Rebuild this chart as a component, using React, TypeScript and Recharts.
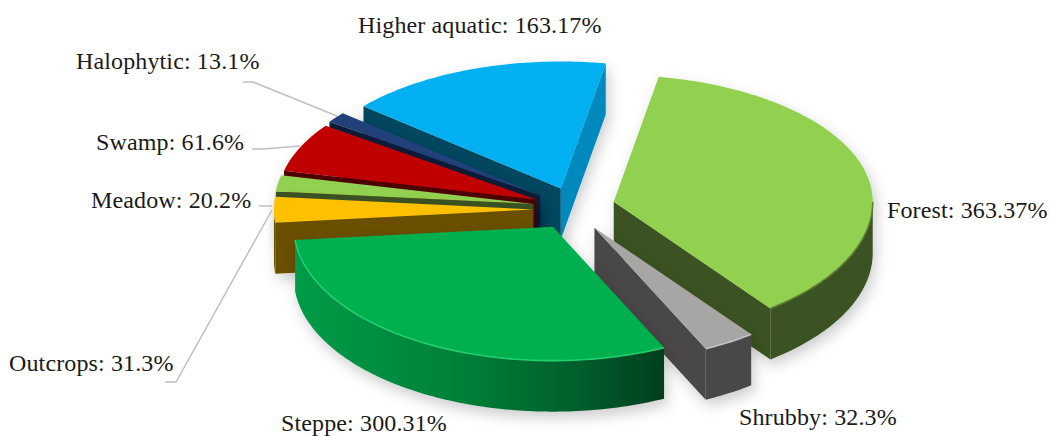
import { PieChart, Pie } from "recharts";

const names = ["Forest", "Shrubby", "Steppe", "Outcrops", "Meadow", "Swamp", "Halophytic", "Higher aquatic"];
const shares = [363.37, 32.3, 300.31, 31.3, 20.2, 61.6, 13.1, 163.17];
const data = names.map((name, i) => ({ name, value: shares[i] }));

// back to front, a pie has only one paint order so each slice gets its own pass
const drawOrder = ["Higher aquatic", "Halophytic", "Swamp", "Meadow", "Outcrops", "Forest", "Shrubby", "Steppe"];

// near half of the ellipse is a bit deeper than the far half (perspective)
const TILT_FAR = 0.49;
const TILT_NEAR = 0.517;
const DEPTH = 51;
const FONT = "'Liberation Serif', serif";

const explode: Record<string, number> = {
  Forest: 45,
  Shrubby: 47,
  Steppe: 35,
  Outcrops: 37,
  Meadow: 37,
  Swamp: 37,
  Halophytic: 38,
  "Higher aquatic": 36,
};

const nudge: Record<string, number[]> = {
  Steppe: [0, 4],
  Outcrops: [0, 2.5],
  "Higher aquatic": [3, -2],
};

const looks: Record<string, { top: string; start: string; end: string; outer: string; rim?: string }> = {
  Forest: { top: "#92d050", start: "#3b5320", end: "#3b5320", outer: "#3b5320", rim: "#5c7d32" },
  Shrubby: { top: "#a8a5a5", start: "#484647", end: "#484647", outer: "#484647", rim: "#c4c2c2" },
  Steppe: { top: "#00b050", start: "#00703a", end: "#00401f", outer: "url(#steppeWall)", rim: "#22cf6e" },
  Outcrops: { top: "#ffc000", start: "#6b5000", end: "#6b5000", outer: "#6b5000" },
  Meadow: { top: "#92d050", start: "#3b5320", end: "#3b5320", outer: "#3b5320" },
  Swamp: { top: "#c00000", start: "#500000", end: "#500000", outer: "#500000" },
  Halophytic: { top: "#23407a", start: "#0d1c38", end: "#0d1c38", outer: "#0d1c38" },
  "Higher aquatic": { top: "#00b0f0", start: "#00465f", end: "#0089bd", outer: "#0089bd" },
};

const labelSpots: Record<string, { x: number; y: number; leader?: number[][] }> = {
  "Higher aquatic": { x: 358, y: 33 },
  Halophytic: { x: 76, y: 69, leader: [[243, 82], [253, 82], [337, 116]] },
  Swamp: { x: 96, y: 150, leader: [[252, 149], [263, 149], [300, 146]] },
  Meadow: { x: 91, y: 208, leader: [[259, 206], [272, 206]] },
  Outcrops: { x: 9, y: 371, leader: [[165, 382], [176, 382], [272, 210]] },
  Steppe: { x: 281, y: 431 },
  Shrubby: { x: 739, y: 425 },
  Forest: { x: 887, y: 218 },
};

const rad = (a: number) => (a * Math.PI) / 180;
const flatY = (a: number) => {
  const s = Math.sin(rad(a));
  return s * (s < 0 ? TILT_NEAR : TILT_FAR);
};

// degrees from one angle to another, in steps small enough to look round
function sweep(from: number, to: number) {
  const n = Math.max(1, Math.ceil(Math.abs(from - to)));
  return Array.from({ length: n + 1 }, (_, i) => from + ((to - from) * i) / n);
}

function Slice3D(props: any) {
  const { cx, cy, outerRadius: r, startAngle, endAngle, name } = props;
  const hi = Math.max(startAngle, endAngle);
  const lo = Math.min(startAngle, endAngle);
  const mid = (hi + lo) / 2;
  const look = looks[name];
  const [nx, ny] = nudge[name] ?? [0, 0];
  const ox = cx + nx + explode[name] * Math.cos(rad(mid));
  const oy = cy + ny - explode[name] * flatY(mid);
  const px = (a: number) => ox + r * Math.cos(rad(a));
  const py = (a: number) => oy - r * flatY(a);
  const pts = (list: number[], dy = 0) => list.map((a) => `${px(a)},${py(a) + dy}`).join(" L");

  const top = `M${ox},${oy} L${pts(sweep(hi, lo))} Z`;
  const radial = (a: number) =>
    `M${ox},${oy} L${px(a)},${py(a)} L${px(a)},${py(a) + DEPTH} L${ox},${oy + DEPTH} Z`;

  // the round wall only shows on the near half of the ellipse
  const a1 = Math.min(hi, 0);
  const a2 = Math.max(lo, -180);
  const hasOuter = a1 > a2;
  const outer = `M${pts(sweep(a1, a2))} L${pts(sweep(a2, a1), DEPTH)} Z`;
  const rim = `M${pts(sweep(a1, a2))}`;

  return (
    <g filter="url(#softShadow)">
      {Math.cos(rad(hi)) < 0 && <path d={radial(hi)} fill={look.start} />}
      {Math.cos(rad(lo)) > 0 && <path d={radial(lo)} fill={look.end} />}
      {hasOuter && <path d={outer} fill={look.outer} />}
      <path d={top} fill={look.top} />
      {hasOuter && look.rim && <path d={rim} fill="none" stroke={look.rim} strokeWidth={1.6} />}
    </g>
  );
}

function sliceLabel(props: any) {
  const spot = labelSpots[props.name];
  return (
    <g>
      {spot.leader && (
        <polyline
          points={spot.leader.map((p) => p.join(",")).join(" ")}
          fill="none"
          stroke="#bfbfbf"
          strokeWidth={1.5}
        />
      )}
      <text
        x={spot.x}
        y={spot.y}
        fontFamily={FONT}
        fontSize={24}
        letterSpacing={0.13}
        fill="#1a1a1a"
        textAnchor="start"
      >
        {`${props.name}: ${props.value}%`}
      </text>
    </g>
  );
}

export default function App() {
  return (
    <div style={{ position: "absolute", left: 0, top: 0 }}>
      <PieChart width={1049} height={436} margin={{ top: 0, right: 0, bottom: 0, left: 0 }}>
        <defs>
          <linearGradient id="steppeWall" x1="0" y1="0" x2="1" y2="0">
            <stop offset="0" stopColor="#009c48" />
            <stop offset="0.45" stopColor="#008039" />
            <stop offset="0.8" stopColor="#005a2a" />
            <stop offset="1" stopColor="#003f1e" />
          </linearGradient>
          <filter id="softShadow" x="-20%" y="-20%" width="140%" height="150%">
            <feDropShadow dx="3" dy="6" stdDeviation="7" floodColor="#000" floodOpacity="0.2" />
          </filter>
        </defs>
        {drawOrder.map((layer, i) => (
          <Pie
            key={layer}
            data={data}
            dataKey="value"
            nameKey="name"
            cx={570}
            cy={207}
            outerRadius={259}
            startAngle={80}
            endAngle={-280}
            stroke="none"
            isAnimationActive={false}
            shape={(p: any) => (p.name === layer ? <Slice3D {...p} /> : <g />)}
            label={i === drawOrder.length - 1 ? sliceLabel : false}
            labelLine={false}
          />
        ))}
      </PieChart>
    </div>
  );
}
